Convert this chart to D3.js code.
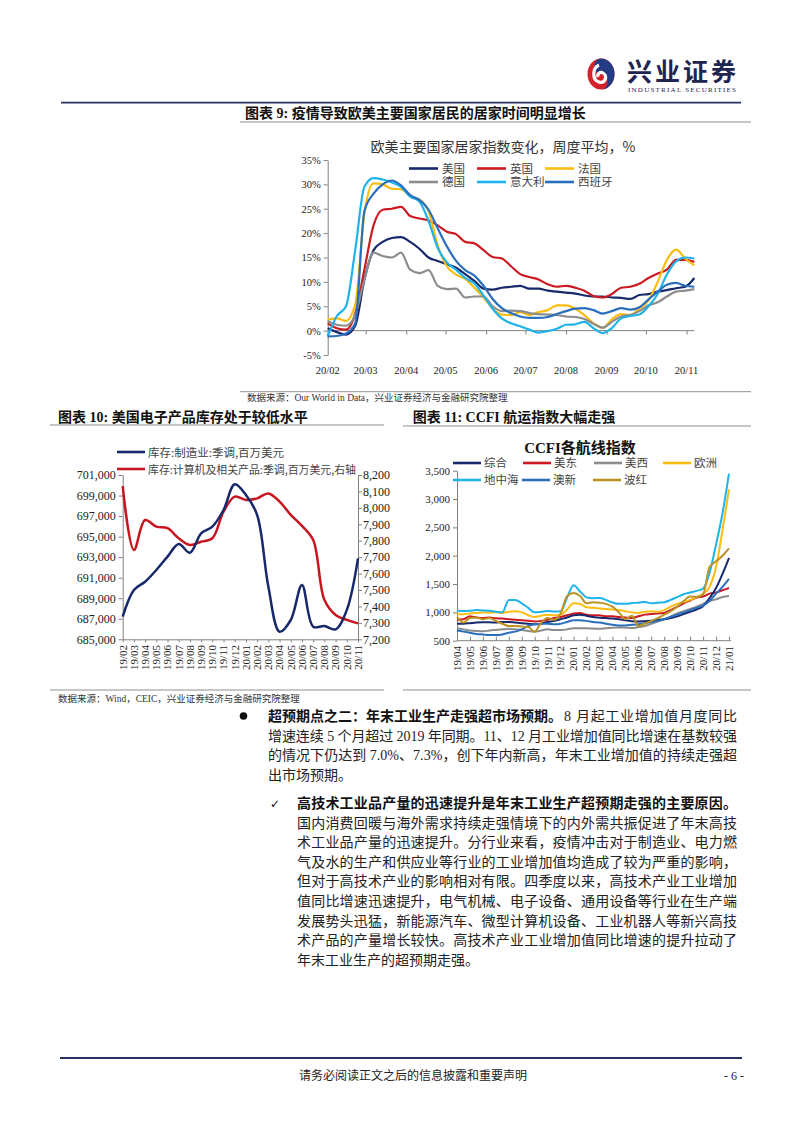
<!DOCTYPE html>
<html>
<head>
<meta charset="utf-8">
<script src="https://cdn.jsdelivr.net/npm/d3@7"></script>
<style>
  body { margin: 0; background: #fff; }
  svg { display: block; }
</style>
</head>
<body>
<svg id="page" width="802" height="1133"></svg>
<script>
// ---- Chart 9: stay-at-home index, weekly averages (%) from 2020-02-01 ----
const homeStart = new Date(2020, 1, 1);
const homeUS = [0.5,-0.3,-0.8,1.0,10.5,16.5,18.2,19.0,19.2,18.2,16.8,15.0,14.3,13.6,12.9,11.6,10.2,8.6,8.4,8.8,9.0,9.2,8.6,8.6,8.2,8.0,7.8,7.6,7.2,7.0,7.0,6.8,6.7,6.5,7.3,7.5,8.0,8.3,8.7,9.0,10.8];
const homeUK = [1.5,0.5,0.2,3.5,12.5,21.6,24.8,25.0,25.4,23.5,23.0,22.6,21.6,20.3,19.8,18.2,17.9,16.5,15.1,14.8,13.2,11.6,11.0,10.5,9.5,9.0,9.2,8.8,8.2,7.1,6.8,7.5,8.8,9.0,9.6,10.8,11.7,12.5,14.5,14.5,14.1];
const homeFR = [2.2,2.5,2.0,5.3,24.0,30.2,30.0,29.1,29.0,27.6,26.9,24.5,17.5,13.2,11.5,10.6,8.8,6.8,4.5,3.3,3.2,3.8,3.2,3.8,4.2,5.2,5.2,4.5,3.2,1.5,0.6,2.3,3.4,3.2,4.5,6.2,10.0,14.5,16.6,14.8,13.4];
const homeDE = [2.0,1.2,1.0,3.2,10.5,16.0,15.3,15.0,16.0,12.5,11.8,12.4,9.2,8.5,8.6,6.8,7.0,7.0,5.0,4.0,4.1,4.0,3.6,3.4,3.3,3.2,2.9,2.8,2.4,1.4,0.6,1.8,2.9,3.2,4.0,5.2,5.8,7.0,8.0,8.2,8.5];
const homeIT = [-1.2,3.0,5.0,16.5,29.5,31.3,31.0,30.4,29.5,27.5,26.5,22.5,17.0,14.0,12.5,10.8,9.7,7.2,4.5,2.5,1.5,0.9,0.2,-0.4,-0.1,0.4,1.2,1.3,1.8,0.5,-0.5,0.5,2.5,3.0,3.3,5.0,7.5,11.5,14.2,15.0,14.8];
const homeES = [-1.2,-1.1,-0.6,1.5,24.5,28.1,30.0,30.8,29.8,27.8,26.8,24.8,21.0,17.3,14.3,12.4,11.3,9.2,6.5,4.6,3.6,2.9,2.6,2.6,2.8,3.4,4.0,4.5,4.6,4.2,3.5,4.0,4.6,4.3,4.8,6.4,8.0,9.4,9.8,9.2,9.0];
const homeNames = ['美国','英国','法国','德国','意大利','西班牙'];
const homeColors = ['#17296b','#cc1a22','#fbbd0f','#8c8c8c','#1fb3ea','#2a6fbe'];

// ---- Chart 10: US inventories, monthly ----
const invMonths = ['19/02','19/03','19/04','19/05','19/06','19/07','19/08','19/09','19/10','19/11','19/12','20/01','20/02','20/03','20/04','20/05','20/06','20/07','20/08','20/09','20/10','20/11'];
const invMfg = [687200,689800,690600,691750,693050,694280,693430,695320,695970,697590,700090,699050,697100,690120,685740,686880,690300,686230,686290,685970,687850,692880];
const invComp = [8133,7744,7926,7886,7876,7815,7774,7794,7815,7977,8068,8048,8058,8088,8038,7957,7890,7805,7440,7348,7318,7297];

// ---- Chart 11: CCFI route indices, half-monthly from 19/04 ----
const ccfiMonths = ['19/04','19/05','19/06','19/07','19/08','19/09','19/10','19/11','19/12','20/01','20/02','20/03','20/04','20/05','20/06','20/07','20/08','20/09','20/10','20/11','20/12','21/01'];
const ccfiComp  = [800,800,810,820,825,825,820,830,830,820,810,800,790,800,830,850,880,910,950,960,940,920,905,900,890,880,860,845,840,845,850,870,880,900,930,970,1010,1050,1110,1250,1430,1680,1960];
const ccfiUSE   = [870,880,930,910,900,910,895,890,880,870,860,850,840,850,870,900,920,950,980,990,960,950,950,930,930,920,910,900,930,960,970,980,990,1040,1100,1160,1210,1260,1280,1330,1350,1390,1430];
const ccfiUSW   = [720,700,680,670,665,680,690,700,710,700,690,670,660,680,700,690,690,700,720,720,720,715,710,720,730,735,730,725,740,760,800,840,880,930,980,1020,1060,1100,1150,1200,1230,1270,1290];
const ccfiEU    = [970,965,980,990,1000,995,1000,990,1010,1020,1000,950,920,940,960,950,960,1050,1160,1150,1090,1080,1070,1060,1050,1040,1020,1000,990,1010,1020,1010,1040,1100,1150,1180,1220,1270,1330,1450,1800,2450,3170];
const ccfiMed   = [1030,1025,1030,1040,1035,1030,1010,1000,1220,1220,1160,1080,1000,1010,1025,1015,1020,1260,1480,1370,1265,1250,1255,1220,1175,1150,1150,1165,1170,1185,1160,1170,1180,1220,1270,1320,1350,1380,1420,1700,2200,2750,3450];
const ccfiAUS   = [680,660,640,620,610,600,600,610,640,660,700,760,790,800,800,790,800,830,860,860,850,830,820,800,780,770,770,780,790,810,830,850,880,920,960,1000,1040,1080,1120,1200,1330,1450,1590];
const ccfiPG    = [920,820,900,910,880,900,850,800,760,760,750,740,660,820,900,870,980,1290,1340,1290,1160,1180,1170,1150,1100,1000,880,940,760,800,850,900,960,1020,1100,1200,1280,1270,1320,1800,1900,2000,2130];

// ---- body text ----
const para1 = [
  '增速连续 5 个月超过 2019 年同期。11、12 月工业增加值同比增速在基数较强',
  '的情况下仍达到 7.0%、7.3%，创下年内新高，年末工业增加值的持续走强超',
  '出市场预期。'
];
const para2 = [
  '国内消费回暖与海外需求持续走强情境下的内外需共振促进了年末高技',
  '术工业品产量的迅速提升。分行业来看，疫情冲击对于制造业、电力燃',
  '气及水的生产和供应业等行业的工业增加值均造成了较为严重的影响，',
  '但对于高技术产业的影响相对有限。四季度以来，高技术产业工业增加',
  '值同比增速迅速提升，电气机械、电子设备、通用设备等行业在生产端',
  '发展势头迅猛，新能源汽车、微型计算机设备、工业机器人等新兴高技',
  '术产品的产量增长较快。高技术产业工业增加值同比增速的提升拉动了',
  '年末工业生产的超预期走强。'
];

const SERIF = '"Liberation Serif","Noto Sans CJK SC",serif';
const SANS = '"Noto Sans CJK SC","Noto Sans",sans-serif';
const svg = d3.select('#page');

function label(x, y, s, o = {}) {
  const t = svg.append('text')
    .attr('x', x).attr('y', y)
    .attr('font-family', o.family || SERIF)
    .attr('font-size', o.size || 12)
    .attr('fill', o.fill || '#222')
    .text(s);
  if (o.weight) t.attr('font-weight', o.weight);
  if (o.anchor) t.attr('text-anchor', o.anchor);
  if (o.width) t.attr('textLength', o.width).attr('lengthAdjust', o.adjust || 'spacing');
  return t;
}

function hline(x1, x2, y, color, w) {
  svg.append('line').attr('x1', x1).attr('x2', x2).attr('y1', y).attr('y2', y)
    .attr('stroke', color).attr('stroke-width', w);
}

function styleAxis(g, size) {
  g.selectAll('path.domain').attr('stroke', '#808080');
  g.selectAll('.tick line').attr('stroke', '#808080');
  g.selectAll('.tick text').attr('font-family', SERIF).attr('font-size', size).attr('fill', '#222');
}

// ---- page header ----
hline(61, 741, 102.7, '#27305e', 1.8);
const logo = svg.append('g').attr('transform', 'translate(601,74)');
logo.append('ellipse').attr('rx', 13.5).attr('ry', 15.5).attr('fill', '#d2232a');
logo.append('path')
  .attr('d', 'M0,-15.5 A13.5,15.5 0 0 1 0,15.5 A6.7,7.7 0 0 0 0,0 A6.7,7.7 0 0 1 0,-15.5 Z')
  .attr('fill', '#233a84');
logo.append('path')
  .attr('d', 'M-2,-9 C-9,-6 -9,6 -2,8 C4,10 7,2 2,-1 C-1,-3 -4,0 -3,3')
  .attr('fill', 'none').attr('stroke', '#fff').attr('stroke-width', 3.2);
label(627, 80.5, '兴业证券', { size: 25, weight: 'bold', fill: '#1d2550', width: 109 });
label(628, 91.5, 'INDUSTRIAL SECURITIES', { size: 7, fill: '#1d2550', width: 108 });

// ---- Chart 9 ----
label(245, 117.5, '图表 9:  疫情导致欧美主要国家居民的居家时间明显增长', { size: 14, weight: 'bold', fill: '#111' });
hline(240, 751, 122, '#8f8f8f', 1.2);
label(503, 152, '欧美主要国家居家指数变化，周度平均，%', { size: 14, anchor: 'middle', fill: '#333', family: SANS });

const x9 = d3.scaleTime().domain([homeStart, new Date(2020, 10, 1)]).range([327.7, 686.5]);
const y9 = d3.scaleLinear().domain([-5, 35]).range([355, 160]);
const homeDates = homeUS.map((d, i) => d3.timeDay.offset(homeStart, 7 * i));

const gy9 = svg.append('g').attr('transform', 'translate(327.7,0)')
  .call(d3.axisLeft(y9).tickValues(d3.range(-5, 36, 5)).tickSize(4).tickSizeOuter(0).tickFormat(d => d + '%'));
styleAxis(gy9, 10.5);
gy9.selectAll('.tick text').attr('x', -7);

const gx9 = svg.append('g').attr('transform', `translate(0,${y9(0)})`)
  .call(d3.axisBottom(x9).ticks(d3.timeMonth.every(1)).tickSize(4).tickFormat(''));
styleAxis(gx9, 10.5);
gx9.select('path.domain').remove();
hline(327.7, x9(homeDates[homeDates.length - 1]), y9(0), '#808080', 1);
x9.ticks(d3.timeMonth.every(1)).forEach(d => {
  label(x9(d), 374, d3.timeFormat('%y/%m')(d), { size: 10.5, anchor: 'middle' });
});

const line9 = d3.line().x((d, i) => x9(homeDates[i])).y(d => y9(d)).curve(d3.curveMonotoneX);
[homeUS, homeUK, homeFR, homeDE, homeIT, homeES].forEach((s, k) => {
  svg.append('path').datum(s).attr('d', line9).attr('fill', 'none')
    .attr('stroke', homeColors[k]).attr('stroke-width', 2.2).attr('stroke-linejoin', 'round');
});

const leg9 = [[409, 168.5], [477, 168.5], [545, 168.5], [409, 182], [477, 182], [545, 182]];
homeNames.forEach((n, k) => {
  const [lx, ly] = leg9[k];
  hline(lx, lx + 29, ly, homeColors[k], 2.6);
  label(lx + 33, ly + 4.2, n, { size: 11.5, fill: '#444' });
});

hline(240, 751, 391.7, '#8f8f8f', 1);
label(247, 401, '数据来源：Our World in Data，兴业证券经济与金融研究院整理', { size: 9.5, fill: '#333' });

// ---- Chart 10 ----
label(58, 421.5, '图表 10:  美国电子产品库存处于较低水平', { size: 14, weight: 'bold', fill: '#111' });
hline(50, 384, 425, '#8f8f8f', 1.2);

const x10 = d3.scalePoint().domain(invMonths).range([122.7, 358]);
const y10L = d3.scaleLinear().domain([685000, 701000]).range([639.3, 475]);
const y10R = d3.scaleLinear().domain([7200, 8200]).range([639.3, 475]);

const gl10 = svg.append('g').attr('transform', 'translate(122.7,0)')
  .call(d3.axisLeft(y10L).tickValues(d3.range(685000, 701001, 2000)).tickSize(4).tickSizeOuter(0).tickFormat(d3.format(',')));
styleAxis(gl10, 12);
gl10.selectAll('.tick text').attr('x', -7);
const gr10 = svg.append('g').attr('transform', 'translate(358,0)')
  .call(d3.axisRight(y10R).tickValues(d3.range(7200, 8201, 100)).tickSize(4).tickSizeOuter(0).tickFormat(d3.format(',')));
styleAxis(gr10, 12);
gr10.selectAll('.tick text').attr('x', 5);
const gb10 = svg.append('g').attr('transform', 'translate(0,639.3)')
  .call(d3.axisBottom(x10).tickSize(3).tickSizeOuter(0).tickFormat(''));
styleAxis(gb10, 11);
invMonths.forEach(m => {
  label(x10(m), 645, m, { size: 11, anchor: 'end' })
    .attr('dy', '0.35em').attr('transform', `rotate(-90,${x10(m)},645)`);
});

const lineMfg = d3.line().x((d, i) => x10(invMonths[i])).y(d => y10L(d)).curve(d3.curveCatmullRom.alpha(0.5));
const lineComp = d3.line().x((d, i) => x10(invMonths[i])).y(d => y10R(d)).curve(d3.curveCatmullRom.alpha(0.5));
svg.append('path').datum(invComp).attr('d', lineComp).attr('fill', 'none').attr('stroke', '#c8161e').attr('stroke-width', 2.5);
svg.append('path').datum(invMfg).attr('d', lineMfg).attr('fill', 'none').attr('stroke', '#17296b').attr('stroke-width', 2.5);

hline(117, 145, 452, '#17296b', 2.6);
label(148, 456.5, '库存:制造业:季调,百万美元', { family: SANS, size: 11.5, fill: '#444' });
hline(117, 145, 469, '#c8161e', 2.6);
label(148, 473.5, '库存:计算机及相关产品:季调,百万美元,右轴', { family: SANS, size: 11, fill: '#444', width: 208, adjust: 'spacingAndGlyphs' });

hline(50, 384, 690, '#8f8f8f', 1);
label(58, 701.5, '数据来源：Wind，CEIC，兴业证券经济与金融研究院整理', { size: 9.5, fill: '#333' });

// ---- Chart 11 ----
label(412.7, 421.5, '图表 11:  CCFI 航运指数大幅走强', { size: 14, weight: 'bold', fill: '#111' });
hline(403, 751, 426, '#8f8f8f', 1.2);
label(580, 453, 'CCFI各航线指数', { size: 15, weight: 'bold', anchor: 'middle', fill: '#111' });

const x11 = d3.scaleLinear().domain([0, ccfiMonths.length - 1]).range([457, 729]);
const y11 = d3.scaleLinear().domain([500, 3500]).range([640.7, 470.7]);

const gl11 = svg.append('g').attr('transform', 'translate(457,0)')
  .call(d3.axisLeft(y11).tickValues(d3.range(500, 3501, 500)).tickSize(4).tickSizeOuter(0).tickFormat(d3.format(',')));
styleAxis(gl11, 11);
gl11.selectAll('.tick text').attr('x', -7);
const gb11 = svg.append('g').attr('transform', 'translate(0,640.7)')
  .call(d3.axisBottom(x11).tickValues(d3.range(0, ccfiMonths.length)).tickSize(-4).tickSizeOuter(0).tickFormat(''));
styleAxis(gb11, 11);
gb11.select('path.domain').remove();
hline(457, 731, 640.7, '#808080', 1);
ccfiMonths.forEach((m, i) => {
  label(x11(i), 646, m, { size: 11, anchor: 'end' })
    .attr('dy', '0.35em').attr('transform', `rotate(-90,${x11(i)},646)`);
});

const ccfiSeries = [
  { name: '综合', data: ccfiComp, color: '#17296b', leg: [453, 463] },
  { name: '美东', data: ccfiUSE, color: '#cc1a22', leg: [523, 463] },
  { name: '美西', data: ccfiUSW, color: '#8c8c8c', leg: [594, 463] },
  { name: '欧洲', data: ccfiEU, color: '#fbbd0f', leg: [663, 463] },
  { name: '地中海', data: ccfiMed, color: '#1fb3ea', leg: [453, 480] },
  { name: '澳新', data: ccfiAUS, color: '#2a6fbe', leg: [522, 480] },
  { name: '波红', data: ccfiPG, color: '#bb9323', leg: [593, 480] }
];
const line11 = d3.line().x((d, i) => x11(i / 2)).y(d => y11(d)).curve(d3.curveMonotoneX);
const drawOrder = ['美西', '美东', '综合', '澳新', '欧洲', '地中海', '波红'];
drawOrder.forEach(n => {
  const s = ccfiSeries.find(c => c.name === n);
  svg.append('path').datum(s.data).attr('d', line11).attr('fill', 'none')
    .attr('stroke', s.color).attr('stroke-width', 2).attr('stroke-linejoin', 'round');
});
ccfiSeries.forEach(s => {
  const [lx, ly] = s.leg;
  hline(lx, lx + 28, ly, s.color, 2.6);
  label(lx + 31, ly + 4.3, s.name, { family: SANS, size: 11.5, fill: '#444' });
});

hline(403, 751, 690, '#8f8f8f', 1);

// ---- body text ----
svg.append('circle').attr('cx', 243.5).attr('cy', 716).attr('r', 3.8).attr('fill', '#111');
const bold1 = label(268, 721, '超预期点之二：年末工业生产走强超市场预期。', { size: 14, weight: 'bold', fill: '#111' });
const b1w = bold1.node().getComputedTextLength();
label(268 + b1w + 2, 721, '8 月起工业增加值月度同比', { size: 14, fill: '#222', width: 737 - (268 + b1w + 2) });
para1.forEach((s, i) => {
  label(268, 721 + 19.6 * (i + 1), s, { size: 14, fill: '#222', width: i < para1.length - 1 ? 469 : null });
});

label(270, 808, '✓', { family: '"DejaVu Sans",sans-serif', size: 12, fill: '#111' });
label(297, 808, '高技术工业品产量的迅速提升是年末工业生产超预期走强的主要原因。', { size: 14, weight: 'bold', fill: '#111', width: 440 });
para2.forEach((s, i) => {
  label(297, 808 + 19.6 * (i + 1), s, { size: 14, fill: '#222', width: i < para2.length - 1 ? 440 : null });
});

// ---- footer ----
hline(60, 742, 1058, '#27305e', 1.8);
label(413, 1080, '请务必阅读正文之后的信息披露和重要声明', { size: 12, anchor: 'middle', fill: '#222' });
label(744, 1080, '- 6 -', { size: 12, anchor: 'end', fill: '#222' });
</script>
</body>
</html>
